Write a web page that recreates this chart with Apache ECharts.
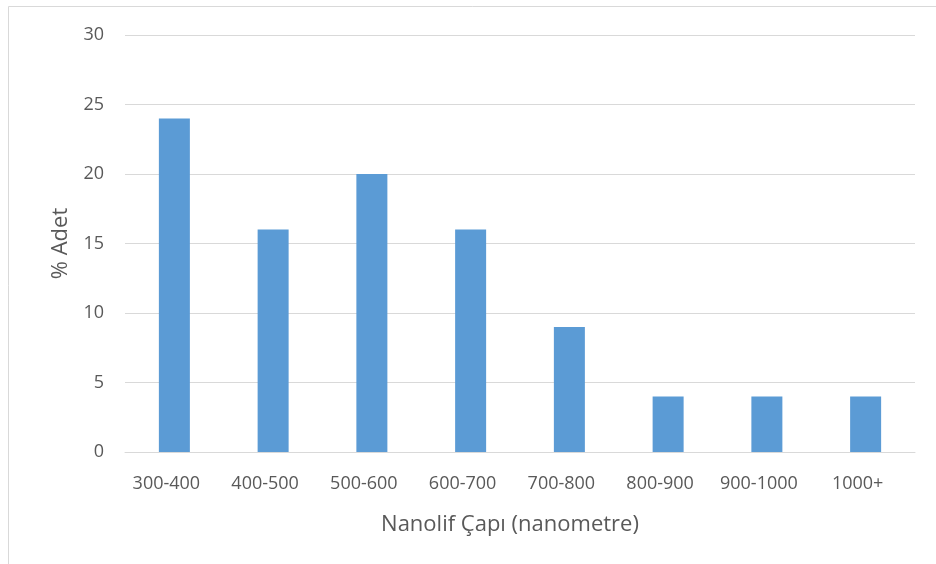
<!DOCTYPE html>
<html>
<head>
<meta charset="utf-8">
<script src="https://cdn.jsdelivr.net/npm/echarts@6/dist/echarts.min.js"></script>
<style>
  html, body { margin: 0; padding: 0; background: #fff; }
  #chart { width: 936px; height: 564px; }
</style>
</head>
<body>
<div id="chart"></div>
<script>
// Fibre diameter classes (nm) and share of counted fibres (%)
const categories = ['300-400', '400-500', '500-600', '600-700', '700-800', '800-900', '900-1000', '1000+'];
const percentages = [24, 16, 20, 16, 9, 4, 4, 4];
const yTicks = { min: 0, max: 30, interval: 5 };

const textColor = '#595959';
const fontFamily = '"Open Sans", Lato, sans-serif';

const chart = echarts.init(document.getElementById('chart'));
chart.setOption({
  animation: false,
  backgroundColor: '#fff',
  graphic: [
    { type: 'line', shape: { x1: 8.5, y1: 6.5, x2: 936, y2: 6.5 }, style: { stroke: '#d9d9d9', lineWidth: 1 } },
    { type: 'line', shape: { x1: 8.5, y1: 6.5, x2: 8.5, y2: 564 }, style: { stroke: '#d9d9d9', lineWidth: 1 } }
  ],
  grid: { left: 125, right: 21, top: 35, bottom: 112, containLabel: false },
  xAxis: {
    type: 'category',
    data: categories,
    name: 'Nanolif Çapı (nanometre)',
    nameLocation: 'middle',
    nameGap: 62,
    nameTextStyle: { color: textColor, fontSize: 22, fontFamily, padding: [0, 20, 0, 0] },
    axisLine: { show: true, lineStyle: { color: '#d9d9d9' } },
    axisTick: { show: false },
    axisLabel: { color: textColor, fontSize: 18, fontFamily, margin: 23, interval: 0, padding: [0, 16, 0, 0] }
  },
  yAxis: {
    type: 'value',
    min: yTicks.min,
    max: yTicks.max,
    interval: yTicks.interval,
    name: '% Adet',
    nameLocation: 'middle',
    nameGap: 53,
    nameTextStyle: { color: textColor, fontSize: 22, fontFamily },
    axisLine: { show: false },
    axisTick: { show: false },
    splitLine: { lineStyle: { color: '#d9d9d9', width: 1 } },
    axisLabel: { color: textColor, fontSize: 18, fontFamily, margin: 21 }
  },
  series: [{
    type: 'bar',
    data: percentages,
    barWidth: 31,
    itemStyle: { color: '#5b9bd5' }
  }]
});
</script>
</body>
</html>
